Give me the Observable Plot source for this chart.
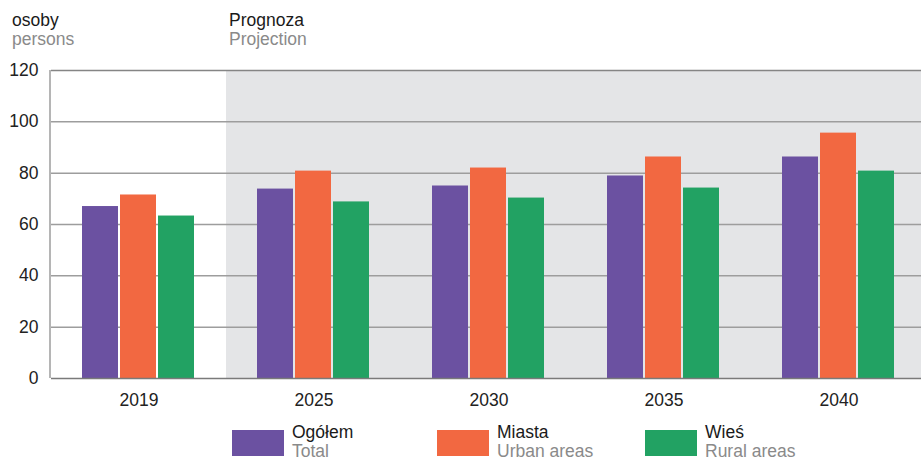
<!DOCTYPE html>
<html>
<head>
<meta charset="utf-8">
<script src="https://cdn.jsdelivr.net/npm/d3@7"></script>
<script src="https://cdn.jsdelivr.net/npm/@observablehq/plot@0.6"></script>
<style>
  html, body { margin: 0; padding: 0; background: #fff; overflow: hidden; }
  body { width: 921px; height: 460px; position: relative; font-family: "Liberation Sans", Arial, sans-serif; }
  .hdr { position: absolute; top: 11px; font-size: 17.5px; line-height: 19.3px; color: #1a1a1a; }
  .en { color: #8a8a8a; }
  #chart { position: absolute; left: 0; top: 56px; }
  .leg { position: absolute; top: 423px; font-size: 17.5px; line-height: 19px; color: #1a1a1a; }
  .sw { position: absolute; top: 430px; width: 52px; height: 26px; }
</style>
</head>
<body>
<div class="hdr" style="left:12px"><div id="unitPL"></div><div class="en" id="unitEN"></div></div>
<div class="hdr" style="left:229px"><div id="projPL"></div><div class="en" id="projEN"></div></div>
<div id="chart"></div>
<div id="legend"></div>
<script>
const years = ["2019", "2025", "2030", "2035", "2040"];
const projectionYears = ["2025", "2030", "2035", "2040"];
const seriesPL = ["Ogółem", "Miasta", "Wieś"];
const seriesEN = ["Total", "Urban areas", "Rural areas"];
const total = [67, 73.8, 75, 78.9, 86.3];
const urban = [71.5, 80.8, 82, 86.3, 95.6];
const rural = [63.3, 68.8, 70.3, 74.2, 80.8];
const yTicks = [0, 20, 40, 60, 80, 100, 120];
const colors = ["#6b51a1", "#f26841", "#22a263"];
const unitLabel = ["osoby", "persons"];
const projLabel = ["Prognoza", "Projection"];

document.getElementById("unitPL").textContent = unitLabel[0];
document.getElementById("unitEN").textContent = unitLabel[1];
document.getElementById("projPL").textContent = projLabel[0];
document.getElementById("projEN").textContent = projLabel[1];

const valuesBySeries = [total, urban, rural];
const rows = [];
years.forEach((year, i) => {
  seriesPL.forEach((s, j) => rows.push({year, series: s, value: valuesBySeries[j][i]}));
});

const chart = Plot.plot({
  width: 927,
  height: 360,
  marginLeft: 50,
  marginRight: 0,
  marginTop: 14,
  marginBottom: 38,
  style: {fontSize: "17.5px", fontFamily: "'Liberation Sans', Arial, sans-serif", color: "#222", maxWidth: "none", background: "transparent", overflow: "visible"},
  fx: {domain: years, padding: 0, label: null, tickSize: 0, tickPadding: 15, axis: "bottom"},
  x: {domain: seriesPL, paddingInner: 0.05, paddingOuter: 0.77, axis: null},
  y: {domain: [0, 120], ticks: yTicks, tickSize: 0, tickPadding: 13, label: null},
  color: {domain: seriesPL, range: colors},
  marks: [
    Plot.rect(projectionYears, {fx: d => d, fill: "#e4e5e7"}),
    Plot.ruleY(yTicks.filter(t => t > 0 && t < 120), {stroke: "#9d9d9d", strokeWidth: 1.5}),
    Plot.ruleY([120], {stroke: "#858585", strokeWidth: 1.5}),
    Plot.barY(rows, {fx: "year", x: "series", y: "value", fill: "series"}),
    Plot.ruleY([0], {stroke: "#7a7a7a", strokeWidth: 1.5})
  ]
});

// left frame line positioned from the plot's own scales
const fxs = chart.scale("fx");
const ys = chart.scale("y");
d3.select(chart).append("line")
  .attr("x1", fxs.range[0]).attr("x2", fxs.range[0])
  .attr("y1", ys.range[0]).attr("y2", ys.range[1])
  .attr("stroke", "#9d9d9d").attr("stroke-width", 1.5);

document.getElementById("chart").appendChild(chart);

const legendLefts = [232, 437, 645];
const legend = document.getElementById("legend");
seriesPL.forEach((s, i) => {
  const sw = document.createElement("div");
  sw.className = "sw";
  sw.style.left = legendLefts[i] + "px";
  sw.style.background = colors[i];
  legend.appendChild(sw);
  const t = document.createElement("div");
  t.className = "leg";
  t.style.left = (legendLefts[i] + 60) + "px";
  const a = document.createElement("div"); a.textContent = s;
  const b = document.createElement("div"); b.textContent = seriesEN[i]; b.className = "en";
  t.appendChild(a); t.appendChild(b);
  legend.appendChild(t);
});
</script>
</body>
</html>
